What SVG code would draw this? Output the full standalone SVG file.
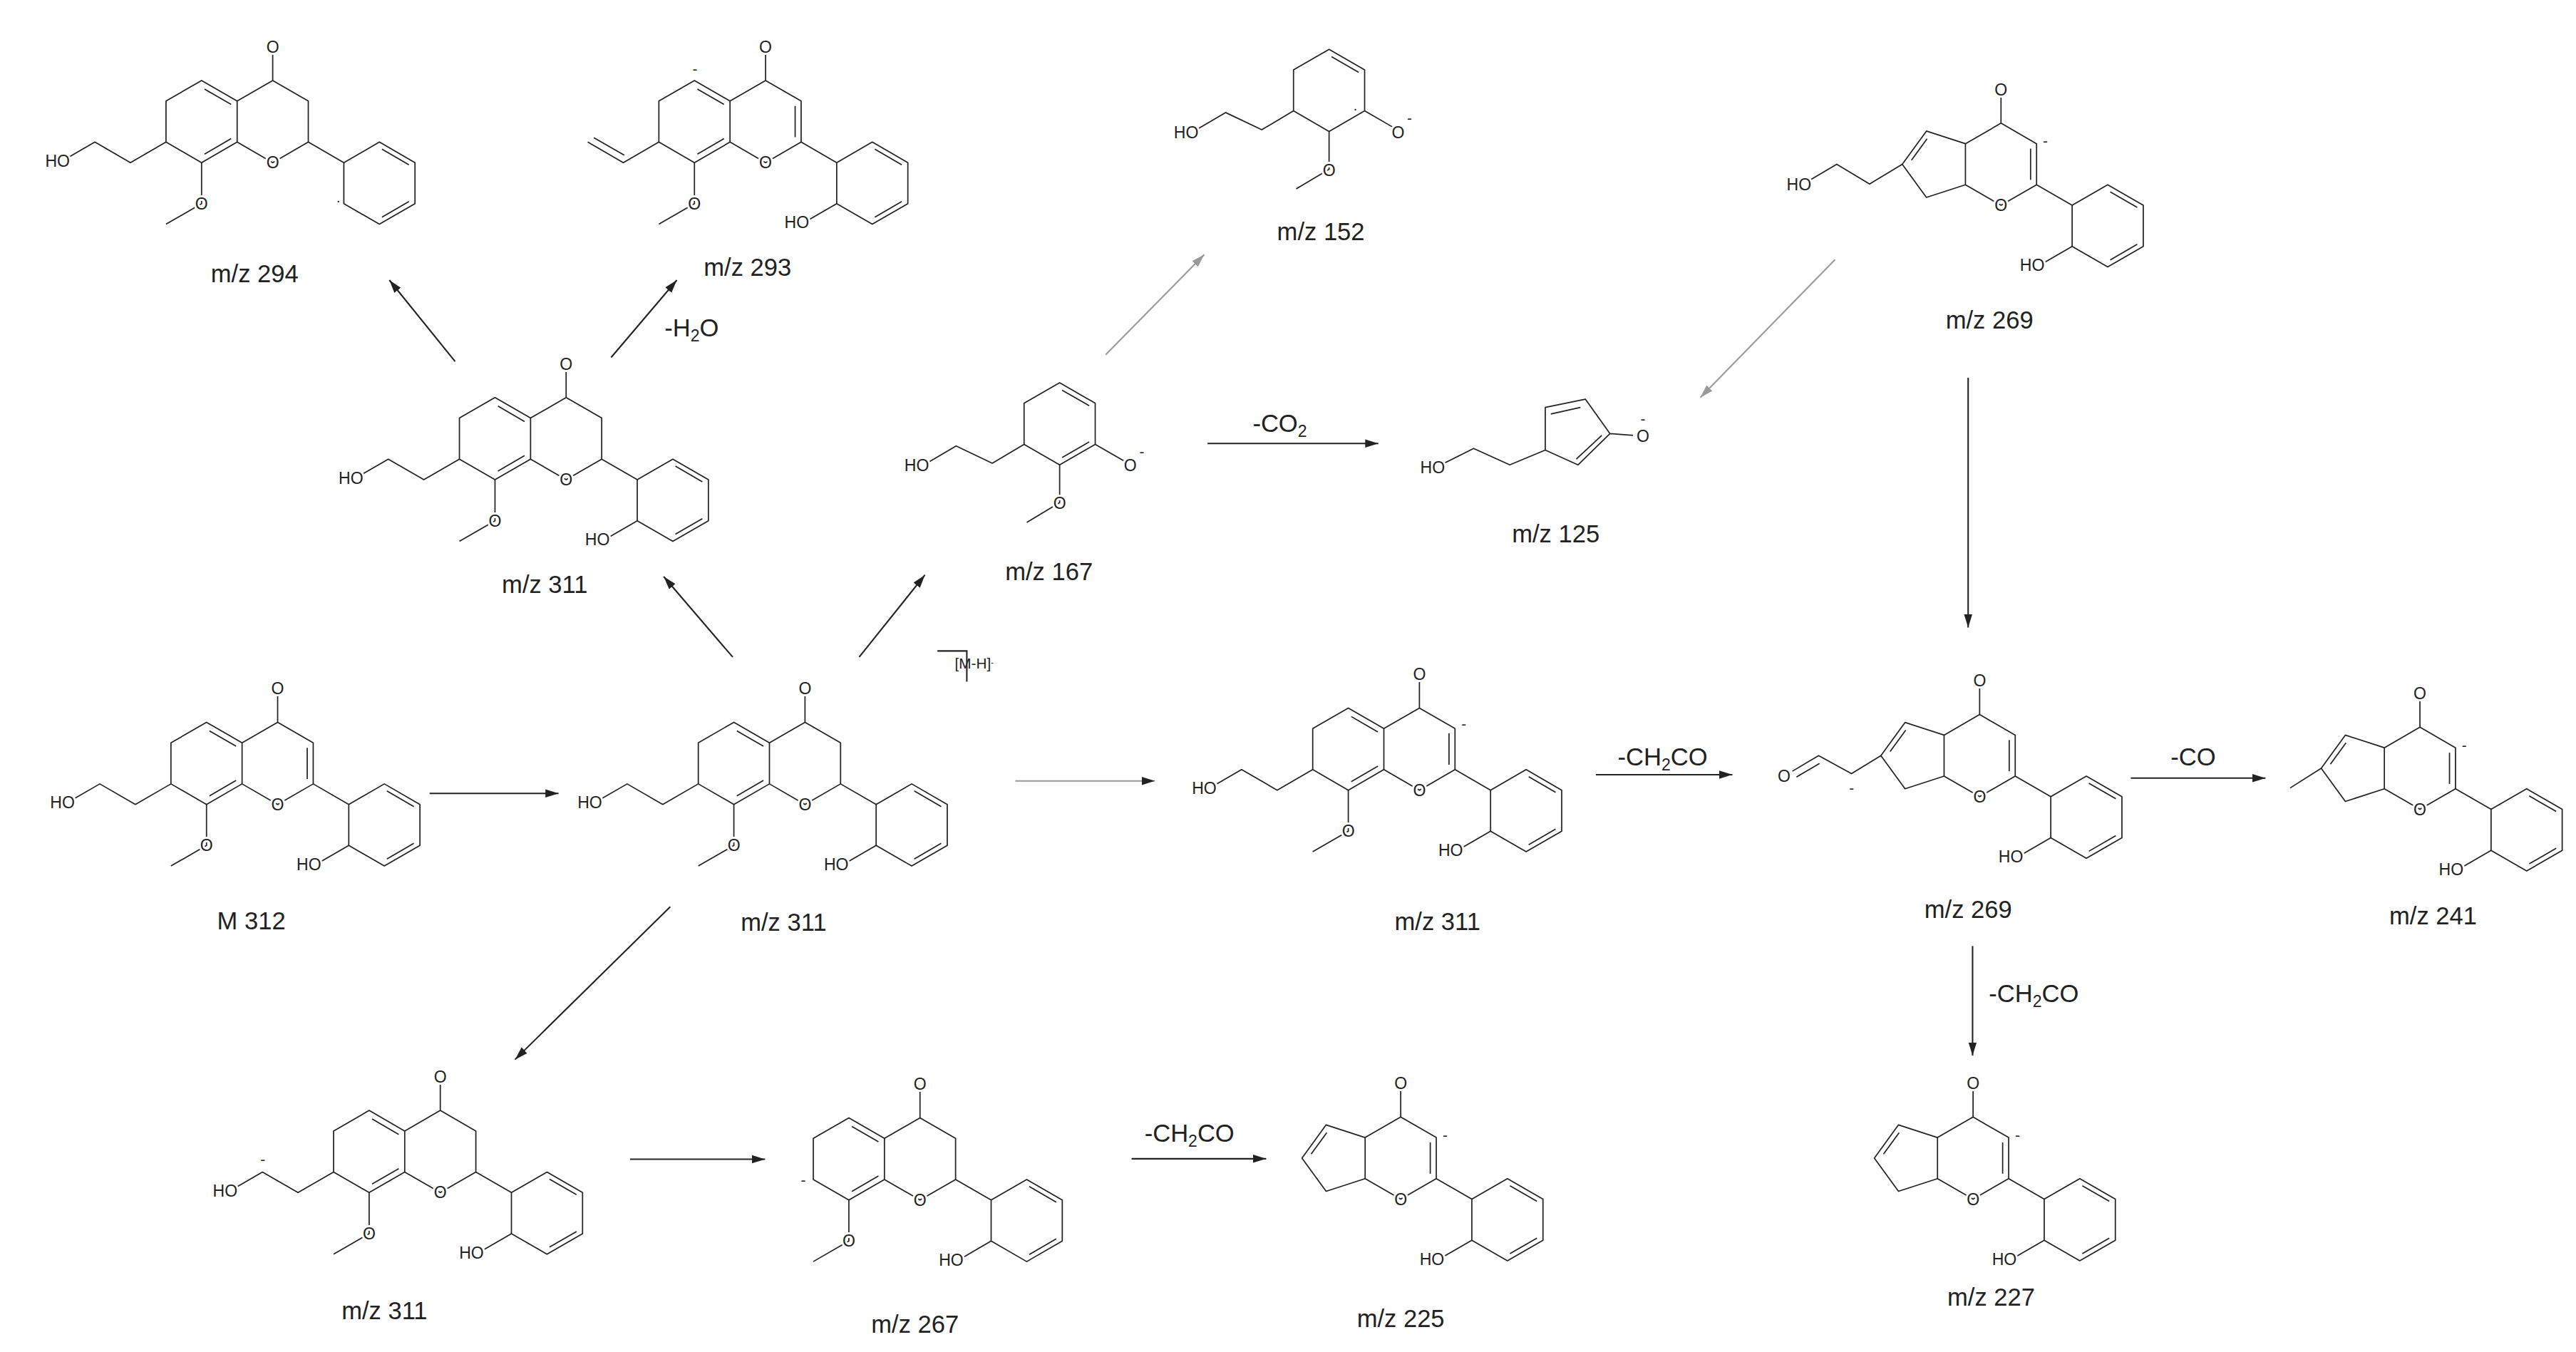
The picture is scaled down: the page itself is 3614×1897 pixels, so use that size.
<svg xmlns="http://www.w3.org/2000/svg" xmlns:xlink="http://www.w3.org/1999/xlink" width="3614" height="1897" viewBox="0 0 3614 1897">
<style>
.b{stroke:#222;stroke-width:0.75;fill:none;stroke-linejoin:round}
.ar{stroke:#222;stroke-width:0.9;fill:none}
.gr{stroke:#999;stroke-width:0.9;fill:none}
.at{font-family:"Liberation Sans",Arial,sans-serif;font-size:10px;fill:#222;stroke:#fff;stroke-width:2.5;paint-order:stroke;text-anchor:middle}
.ch{font-family:"Liberation Sans",Arial,sans-serif;font-size:9px;fill:#222;text-anchor:middle}
.lb{font-family:"Liberation Sans",Arial,sans-serif;font-size:15px;fill:#222;text-anchor:middle}
.rx{font-family:"Liberation Sans",Arial,sans-serif;font-size:15px;fill:#222;text-anchor:middle}
</style>
<defs>
<marker id="ah" markerUnits="userSpaceOnUse" markerWidth="8" markerHeight="6" refX="8" refY="3" orient="auto"><path d="M0,0.5 L8,3 L0,5.5 z" fill="#222"/></marker>
<marker id="ahg" markerUnits="userSpaceOnUse" markerWidth="8" markerHeight="6" refX="8" refY="3" orient="auto"><path d="M0,0.5 L8,3 L0,5.5 z" fill="#999"/></marker>
<g id="rC"><path class="b" d="M0,-25 L21.65,-12.5 L21.65,12.5 L0,25 L-21.65,12.5 L-21.65,-12.5 Z M0,-25 V-44"/></g>
<g id="rA"><path class="b" d="M-21.65,-12.5 L-43.3,-25 L-64.95,-12.5 L-64.95,12.5 L-43.3,25 L-21.65,12.5 M-25.3,-10.4 L-41.5,-19.8 M-25.3,10.4 L-41.5,19.8"/></g>
<g id="d23"><path class="b" d="M18,-9.5 V9.5"/></g>
<g id="ph"><path class="b" d="M21.65,12.5 L43.3,25 M43.3,25 L64.95,12.5 L86.6,25 L86.6,50 L64.95,62.5 L43.3,50 Z M66.5,16.8 L82.9,26.3 M82.9,48.7 L66.5,58.2"/></g>
<g id="phOH"><path class="b" d="M43.3,50 L24,61.2"/></g>
<g id="ome"><path class="b" d="M-43.3,25 V50 L-64.95,62.5"/></g>
<g id="chain"><path class="b" d="M-64.95,12.5 L-86.6,25 L-108.25,12.5 L-126,22.8"/></g>
<g id="r5"><path class="b" d="M-21.65,-12.5 L-45.4,-20.2 L-60.1,0 L-45.4,20.2 L-21.65,12.5 M-45,-15.5 L-54.5,-2.5"/></g>
</defs>
<rect width="3614" height="1897" fill="#fff"/>
<g transform="scale(2.30485)">

<g id="M312" transform="translate(169,464.7)">
<use xlink:href="#rA"/><use xlink:href="#rC"/><use xlink:href="#d23"/><use xlink:href="#ph"/><use xlink:href="#phOH"/><use xlink:href="#ome"/><use xlink:href="#chain"/>
<text class="at" x="0" y="-42">O</text><text class="at" x="0" y="28.5">O</text><text class="at" x="-43.3" y="53.5">O</text><text class="at" x="-131" y="27.5">HO</text><text class="at" x="19" y="65">HO</text>
<text class="lb" x="-16" y="101">M 312</text>
</g>

<g id="c311" transform="translate(490,464.7)">
<use xlink:href="#rA"/><use xlink:href="#rC"/><use xlink:href="#ph"/><use xlink:href="#phOH"/><use xlink:href="#ome"/><use xlink:href="#chain"/>
<text class="at" x="0" y="-42">O</text><text class="at" x="0" y="28.5">O</text><text class="at" x="-43.3" y="53.5">O</text><text class="at" x="-131" y="27.5">HO</text><text class="at" x="19" y="65">HO</text>
<text class="lb" x="-13" y="102">m/z 311</text>
</g>

<g id="tl311" transform="translate(344.6,267)">
<use xlink:href="#rA"/><use xlink:href="#rC"/><use xlink:href="#ph"/><use xlink:href="#phOH"/><use xlink:href="#ome"/><use xlink:href="#chain"/>
<text class="at" x="0" y="-42">O</text><text class="at" x="0" y="28.5">O</text><text class="at" x="-43.3" y="53.5">O</text><text class="at" x="-131" y="27.5">HO</text><text class="at" x="19" y="65">HO</text>
<text class="lb" x="-13" y="94">m/z 311</text>
</g>

<g id="m294" transform="translate(166,74)">
<use xlink:href="#rA"/><use xlink:href="#rC"/><use xlink:href="#ph"/><use xlink:href="#ome"/><use xlink:href="#chain"/>
<text class="at" x="0" y="-42">O</text><text class="at" x="0" y="28.5">O</text><text class="at" x="-43.3" y="53.5">O</text><text class="at" x="-131" y="27.5">HO</text><text class="ch" x="40" y="51">·</text>
<text class="lb" x="-11" y="98">m/z 294</text>
</g>

<g id="m293" transform="translate(466,74)">
<use xlink:href="#rA"/><use xlink:href="#rC"/><use xlink:href="#d23"/><use xlink:href="#ph"/><use xlink:href="#phOH"/><use xlink:href="#ome"/>
<path class="b" d="M-64.95,12.5 L-86.6,25 L-108.25,12.5 M-86,20.5 L-104.5,9.8"/>
<text class="at" x="0" y="-42">O</text><text class="at" x="0" y="28.5">O</text><text class="at" x="-43.3" y="53.5">O</text><text class="at" x="19" y="65">HO</text><text class="ch" x="-43" y="-29">-</text>
<text class="lb" x="-11" y="94">m/z 293</text>
</g>

<g id="r311" transform="translate(864,456)">
<use xlink:href="#rA"/><use xlink:href="#rC"/><use xlink:href="#d23"/><use xlink:href="#ph"/><use xlink:href="#phOH"/><use xlink:href="#ome"/><use xlink:href="#chain"/>
<text class="at" x="0" y="-42">O</text><text class="at" x="0" y="28.5">O</text><text class="at" x="-43.3" y="53.5">O</text><text class="at" x="-131" y="27.5">HO</text><text class="at" x="19" y="65">HO</text><text class="ch" x="27" y="-12">-</text>
<text class="lb" x="11" y="110">m/z 311</text>
</g>

<g id="t269" transform="translate(1218,100)">
<use xlink:href="#r5"/><use xlink:href="#rC"/><use xlink:href="#d23"/><use xlink:href="#ph"/><use xlink:href="#phOH"/>
<path class="b" d="M-60.1,0 L-80,12 L-100,0 L-117,10"/>
<text class="at" x="0" y="-42">O</text><text class="at" x="0" y="28.5">O</text><text class="at" x="-123" y="16">HO</text><text class="at" x="19" y="65">HO</text><text class="ch" x="27" y="-11">-</text>
<text class="lb" x="-7" y="100">m/z 269</text>
</g>

<g id="m269" transform="translate(1205,460)">
<use xlink:href="#r5"/><use xlink:href="#rC"/><use xlink:href="#d23"/><use xlink:href="#ph"/><use xlink:href="#phOH"/>
<path class="b" d="M-60.1,0 L-78,11 L-98,0 L-114,9.5 M-97.5,4.8 L-111.5,13"/>
<text class="at" x="0" y="-42">O</text><text class="at" x="0" y="28.5">O</text><text class="at" x="-119" y="16">O</text><text class="ch" x="-78" y="23">-</text><text class="at" x="19" y="65">HO</text>
<text class="lb" x="-7" y="99">m/z 269</text>
</g>

<g id="m241" transform="translate(1473,467.7)">
<use xlink:href="#r5"/><use xlink:href="#rC"/><use xlink:href="#d23"/><use xlink:href="#ph"/><use xlink:href="#phOH"/>
<path class="b" d="M-60.1,0 L-79,12"/>
<text class="at" x="0" y="-42">O</text><text class="at" x="0" y="28.5">O</text><text class="at" x="19" y="65">HO</text><text class="ch" x="27" y="-11">-</text>
<text class="lb" x="8" y="95">m/z 241</text>
</g>

<g id="m227" transform="translate(1201,705)">
<use xlink:href="#r5"/><use xlink:href="#rC"/><use xlink:href="#d23"/><use xlink:href="#ph"/><use xlink:href="#phOH"/>
<text class="at" x="0" y="-42">O</text><text class="at" x="0" y="28.5">O</text><text class="at" x="19" y="65">HO</text><text class="ch" x="27" y="-11">-</text>
<text class="lb" x="11" y="90">m/z 227</text>
</g>

<g id="m225" transform="translate(852.6,705)">
<use xlink:href="#r5"/><use xlink:href="#rC"/><use xlink:href="#d23"/><use xlink:href="#ph"/><use xlink:href="#phOH"/>
<text class="at" x="0" y="-42">O</text><text class="at" x="0" y="28.5">O</text><text class="at" x="19" y="65">HO</text><text class="ch" x="27" y="-11">-</text>
<text class="lb" x="0" y="103">m/z 225</text>
</g>

<g id="b311" transform="translate(268,701)">
<use xlink:href="#rA"/><use xlink:href="#rC"/><use xlink:href="#ph"/><use xlink:href="#phOH"/><use xlink:href="#ome"/><use xlink:href="#chain"/>
<text class="at" x="0" y="-42">O</text><text class="at" x="0" y="28.5">O</text><text class="at" x="-43.3" y="53.5">O</text><text class="at" x="-131" y="27.5">HO</text><text class="at" x="19" y="65">HO</text><text class="ch" x="-108" y="8">-</text>
<text class="lb" x="-34" y="102">m/z 311</text>
</g>

<g id="m267" transform="translate(560,705.5)">
<use xlink:href="#rA"/><use xlink:href="#rC"/><use xlink:href="#ph"/><use xlink:href="#phOH"/><use xlink:href="#ome"/>
<text class="at" x="0" y="-42">O</text><text class="at" x="0" y="28.5">O</text><text class="at" x="-43.3" y="53.5">O</text><text class="at" x="19" y="65">HO</text><text class="ch" x="-71" y="16">-</text>
<text class="lb" x="-3" y="106">m/z 267</text>
</g>

<g id="m152" transform="translate(809,55)">
<path class="b" d="M0,-25 L21.65,-12.5 L21.65,12.5 L0,25 L-21.65,12.5 L-21.65,-12.5 Z M1.5,-20.5 L18,-11 M21.65,12.5 L39,22.5 M0,25 V48 L-20,60 M-21.65,12.5 L-41,24 L-63,13.5 L-80,23.5"/>
<text class="at" x="0" y="52">O</text><text class="at" x="42" y="29">O</text><text class="ch" x="49" y="20">-</text><text class="ch" x="16" y="14">·</text><text class="at" x="-87" y="29">HO</text>
<text class="lb" x="-5" y="91">m/z 152</text>
</g>

<g id="m167" transform="translate(645,258)">
<path class="b" d="M0,-25 L21.65,-12.5 L21.65,12.5 L0,25 L-21.65,12.5 L-21.65,-12.5 Z M1.5,-20.5 L18,-11 M18,11 L1.5,20.5 M21.65,12.5 L39,22.5 M0,25 V48 L-20,60 M-21.65,12.5 L-41,24 L-63,13.5 L-80,23.5"/>
<text class="at" x="0" y="52">O</text><text class="at" x="43" y="29">O</text><text class="ch" x="50" y="20">-</text><text class="at" x="-87" y="29">HO</text>
<text class="lb" x="-6.5" y="95">m/z 167</text>
</g>

<g id="m125">
<path class="b" d="M940.6,248 L965,243 L980,264 L960.5,283 L940.6,274 Z M944,252 L962,248 M975,265 L959.5,279.5 M980,264 L994,265 M940.6,274 L919,283 L897,273 L879,282"/>
<text class="at" x="1000" y="269">O</text><text class="ch" x="1000" y="258">-</text><text class="at" x="872" y="288">HO</text>
<text class="lb" x="947" y="330">m/z 125</text>
</g>

<g id="connectors">
<path class="ar" marker-end="url(#ah)" d="M261.5,483 L340,483"/>
<path class="ar" marker-end="url(#ah)" d="M446,400 L404,351"/>
<path class="ar" marker-end="url(#ah)" d="M523,400 L563,350"/>
<path class="ar" marker-end="url(#ah)" d="M277,220 L237,170.5"/>
<path class="ar" marker-end="url(#ah)" d="M372,217.6 L412,170.5"/>
<path class="gr" marker-end="url(#ahg)" d="M673,216 L733,155"/>
<path class="ar" marker-end="url(#ah)" d="M735,270 L839,270"/>
<path class="gr" marker-end="url(#ahg)" d="M1117,158 L1035,242"/>
<path class="ar" marker-end="url(#ah)" d="M1198,230 L1198,382"/>
<path class="gr" marker-end="url(#ah)" d="M618,475.4 L703,475.4"/>
<path class="ar" marker-end="url(#ah)" d="M971.4,471.6 L1054.5,471.6"/>
<path class="ar" marker-end="url(#ah)" d="M1297,473.7 L1379,473.7"/>
<path class="ar" marker-end="url(#ah)" d="M1200.7,575.9 L1200.7,642.6"/>
<path class="ar" marker-end="url(#ah)" d="M408,552 L313.5,645"/>
<path class="ar" marker-end="url(#ah)" d="M383.5,705.7 L465.7,705.7"/>
<path class="ar" marker-end="url(#ah)" d="M688.8,705.4 L770.7,705.4"/>
<path class="ar" d="M570.6,396.3 H588.5 V415"/>
</g>
<g id="labels">
<text class="rx" x="421" y="205">-H<tspan font-size="10" dy="3">2</tspan><tspan dy="-3">O</tspan></text>
<text class="rx" x="779" y="263">-CO<tspan font-size="10" dy="3">2</tspan></text>
<text class="rx" x="1012" y="466">-CH<tspan font-size="10" dy="3">2</tspan><tspan dy="-3">CO</tspan></text>
<text class="rx" x="1335" y="466">-CO</text>
<text class="rx" x="1238" y="610">-CH<tspan font-size="10" dy="3">2</tspan><tspan dy="-3">CO</tspan></text>
<text class="rx" x="724" y="695">-CH<tspan font-size="10" dy="3">2</tspan><tspan dy="-3">CO</tspan></text>
<text class="ch" x="593" y="407" font-size="6.5" text-anchor="start">[M-H]<tspan dy="-2" font-size="5">-</tspan></text>
</g>
</g>
</svg>
